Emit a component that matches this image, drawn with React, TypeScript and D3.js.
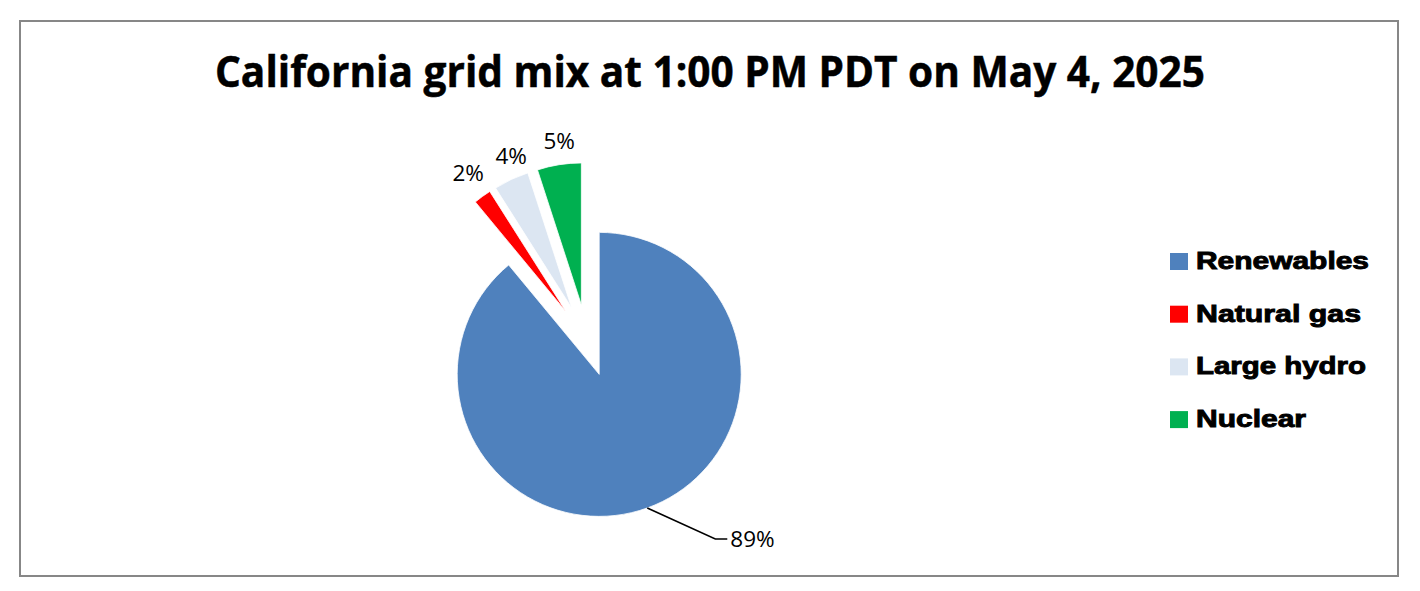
import React from "react";
import * as d3 from "d3";

const categories = ["Renewables", "Natural gas", "Large hydro", "Nuclear"];
const shares = [89, 2, 4, 5];
const sliceColors = ["#4F81BD", "#FF0000", "#DCE6F2", "#00B050"];
const legendWidths = [173, 165, 170, 110];
const titleText = "California grid mix at 1:00 PM PDT on May 4, 2025";

const W = 1420;
const H = 591;
const cx = 587;
const cy = 340.5;
const R = 142;
const explode = 36;

export default function App() {
  const pie = d3.pie<number>().sort(null).value((d) => d);
  const arcs = pie(shares);
  const arcGen = d3.arc<d3.PieArcDatum<number>>().innerRadius(0).outerRadius(R);
  const dir = (a: number) => [Math.sin(a), -Math.cos(a)];

  const geo = arcs.map((a) => {
    const mid = (a.startAngle + a.endAngle) / 2;
    const [ux, uy] = dir(mid);
    const ox = cx + ux * explode;
    const oy = cy + uy * explode;
    return { ux, uy, ox, oy, px: ox + ux * R, py: oy + uy * R };
  });

  // small-slice labels: above the outer arc point, pushed apart if they collide
  const smallLabels = geo.map((g, i) => ({ i, x: g.px, y: g.py - 24 }));
  const minGap = 43;
  for (let k = smallLabels.length - 2; k >= 1; k--) {
    const cur = smallLabels[k];
    const nxt = smallLabels[k + 1];
    if (nxt.x - cur.x < minGap) cur.x = nxt.x - minGap;
  }

  return (
    <svg
      width={W}
      height={H}
      style={{ position: "fixed", left: 0, top: 0, background: "#fff" }}
    >
      <rect x={0} y={0} width={W} height={H} fill="#fff" />
      <rect x={20} y={21} width={1378} height={555} fill="#fff" stroke="#878787" strokeWidth={2} />
      <text
        x={710}
        y={87}
        textAnchor="middle"
        fontFamily="'Open Sans', 'Liberation Sans', sans-serif"
        fontWeight="bold"
        fontSize={43}
        textLength={990}
        lengthAdjust="spacingAndGlyphs"
        fill="#000"
        stroke="#000"
        strokeWidth={0.5}
      >
        {titleText}
      </text>
      {arcs.map((a, i) => (
        <g key={categories[i]} transform={`translate(${geo[i].ox},${geo[i].oy})`}>
          <path d={arcGen(a) || ""} fill={sliceColors[i]} stroke="#fff" strokeWidth={0.8} />
        </g>
      ))}
      {arcs.map((a, i) => {
        const label = `${shares[i]}%`;
        const g = geo[i];
        if (shares[i] > 50) {
          const ex = g.px + 68;
          const ey = g.py + 31;
          const hx = ex + 12;
          return (
            <g key={"l" + i}>
              <polyline
                points={`${g.px},${g.py} ${ex},${ey} ${hx},${ey}`}
                fill="none"
                stroke="#000"
                strokeWidth={1.6}
              />
              <text
                x={hx + 3}
                y={ey}
                dominantBaseline="central"
                fontFamily="'Open Sans', 'Liberation Sans', sans-serif"
                fontSize={22.5}
                fill="#000"
              >
                {label}
              </text>
            </g>
          );
        }
        const sl = smallLabels[i];
        return (
          <text
            key={"l" + i}
            x={sl.x}
            y={sl.y}
            textAnchor="middle"
            dominantBaseline="central"
            fontFamily="'Open Sans', 'Liberation Sans', sans-serif"
            fontSize={22.5}
            fill="#000"
          >
            {label}
          </text>
        );
      })}
      {categories.map((c, i) => {
        const by = 269 + i * 52.7;
        return (
          <g key={"lg" + c}>
            <rect x={1170} y={by - 16} width={18} height={17} fill={sliceColors[i]} />
            <text
              x={1196}
              y={by}
              fontFamily="'Liberation Sans', Arial, sans-serif"
              fontWeight="bold"
              fontSize={23}
              textLength={legendWidths[i]}
              lengthAdjust="spacingAndGlyphs"
              fill="#000"
              stroke="#000"
              strokeWidth={0.9}
            >
              {c}
            </text>
          </g>
        );
      })}
    </svg>
  );
}
